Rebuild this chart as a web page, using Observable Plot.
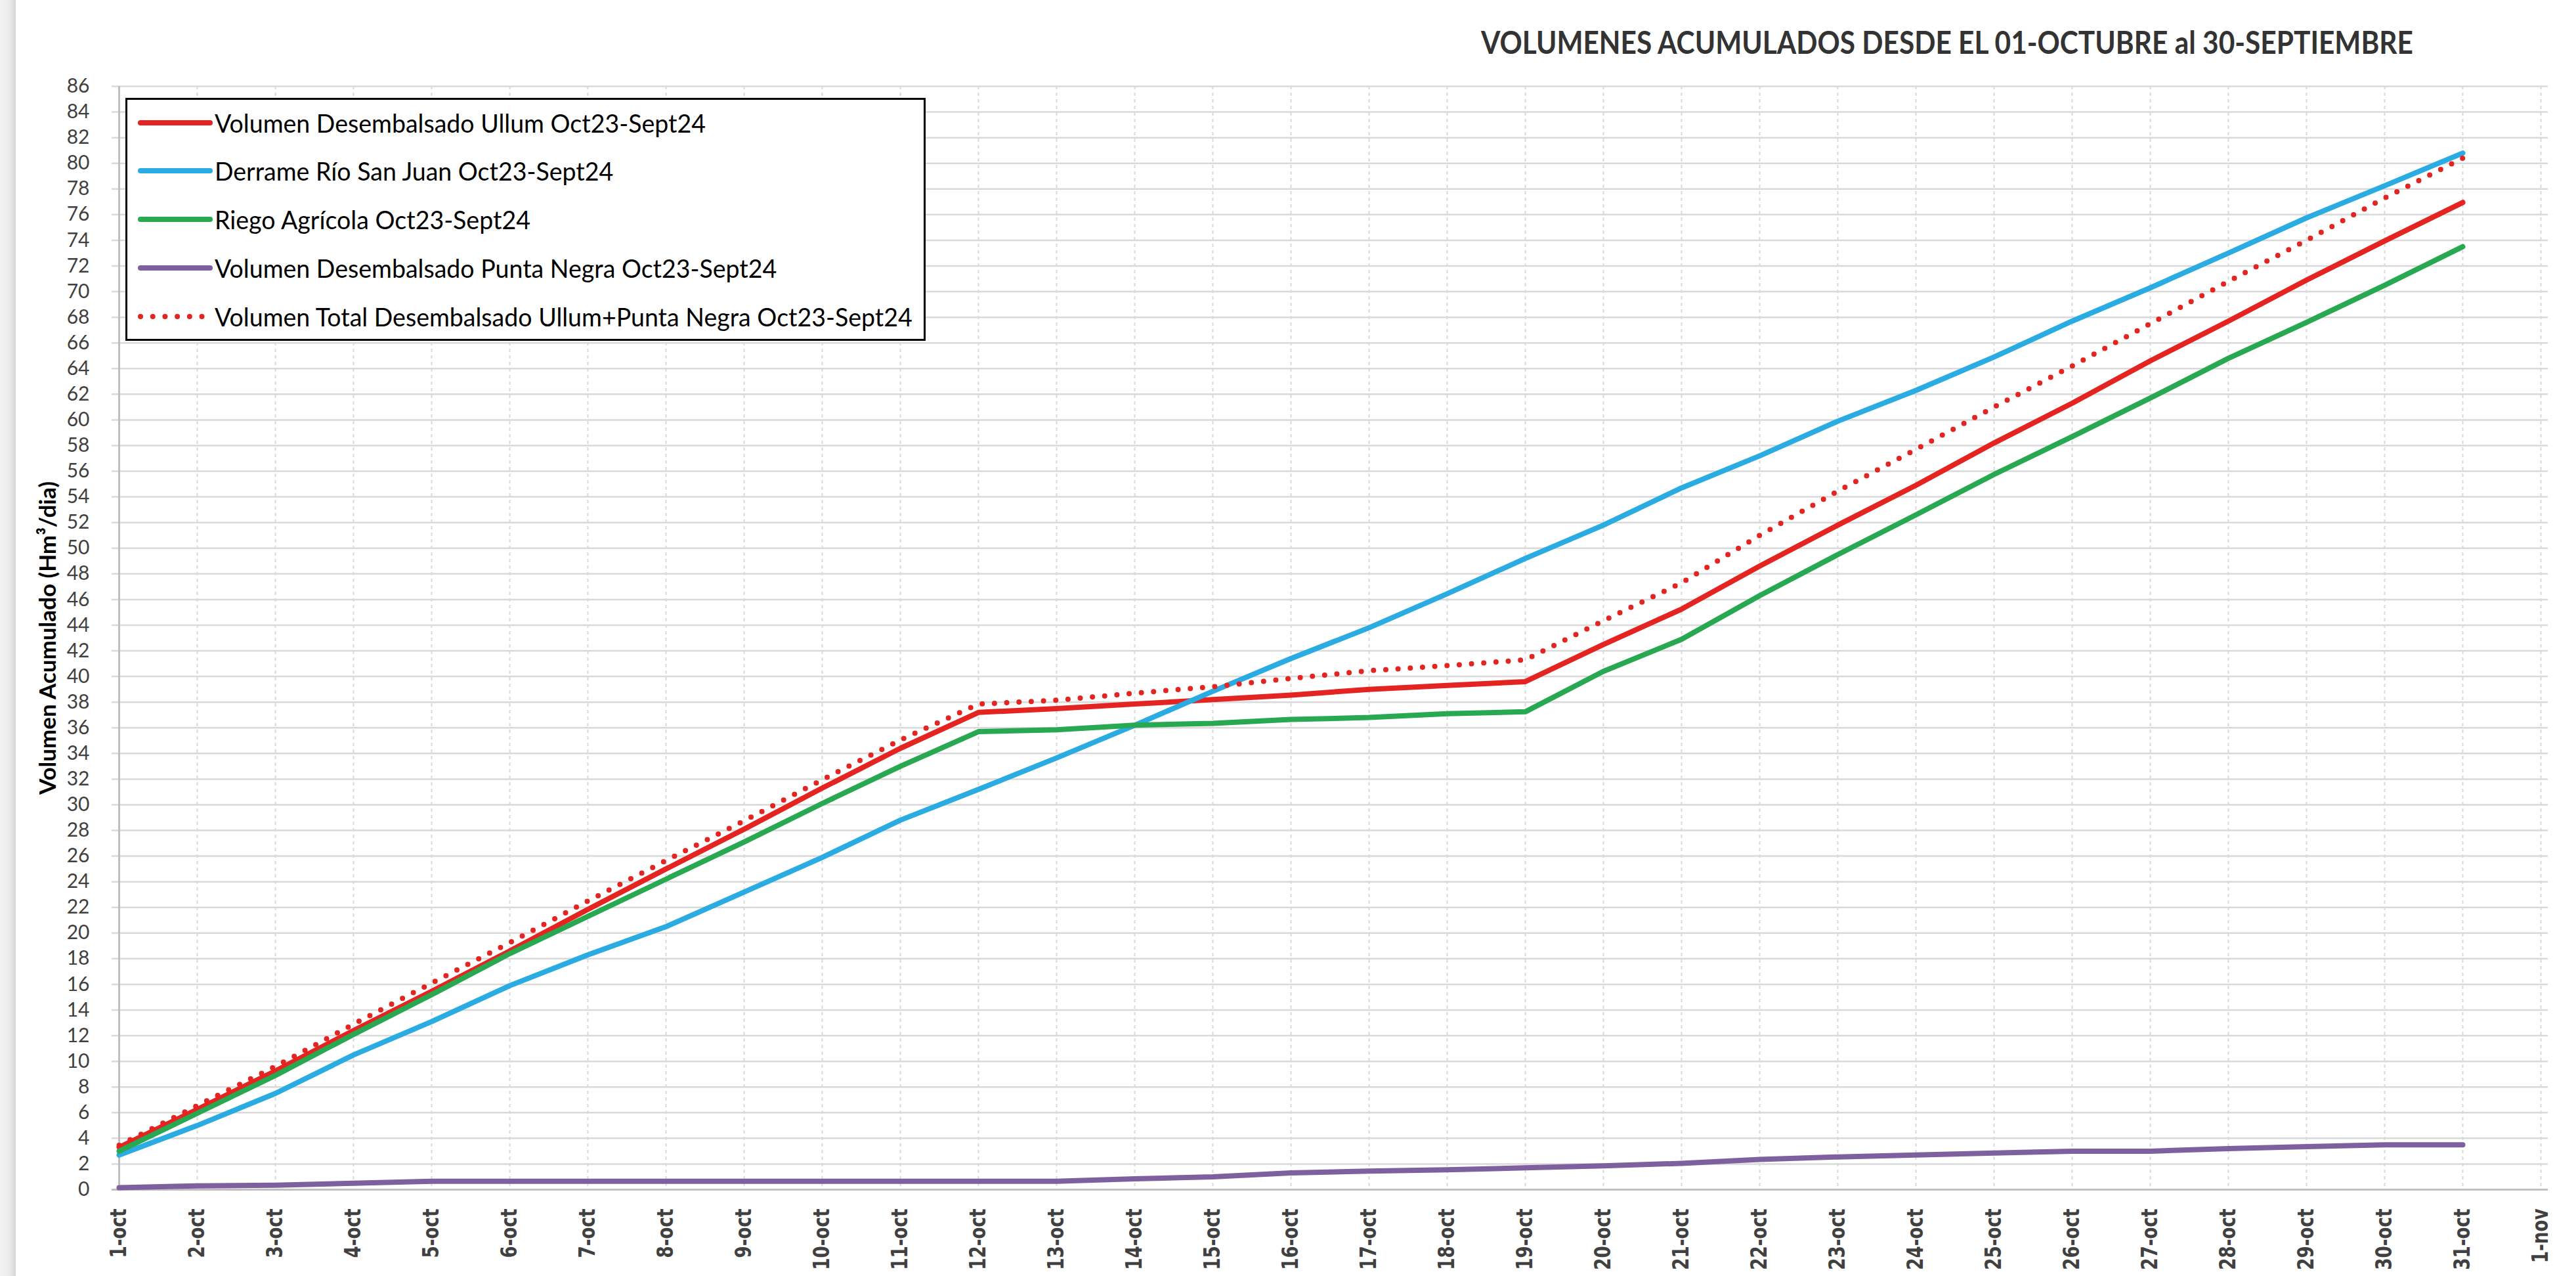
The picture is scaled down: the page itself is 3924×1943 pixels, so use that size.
<!DOCTYPE html>
<html>
<head>
<meta charset="utf-8">
<script src="https://cdn.jsdelivr.net/npm/d3@7"></script>
<script src="https://cdn.jsdelivr.net/npm/@observablehq/plot@0.6"></script>
<style>
  html, body { margin: 0; padding: 0; background: #fff; }
  #wrap { position: relative; width: 3924px; height: 1943px; overflow: hidden; background: #fff; }
  #shade { position: absolute; left: 0; top: 0; width: 24px; height: 1943px;
           background: linear-gradient(to right, #f3f3f3, #ebebeb 60%, #d6d6d6 100%); }
  #title { position: relative; height: 100px; }
  #title-text { position: absolute; left: 2966px; top: 64px; white-space: nowrap;
                font-family: Lato, "Open Sans", sans-serif; font-weight: 700; font-size: 47px;
                line-height: 1; color: #333; transform: translate(-50%, -50%); }
  #legend { position: absolute; left: 191px; top: 149px; width: 1219px; height: 370px;
            box-sizing: border-box; border: 3px solid #000; background: #fff; }
  .row { position: absolute; left: 0; height: 60px; display: flex; align-items: center; }
  .row svg { position: absolute; left: 14px; top: 0; }
  .row span { position: absolute; left: 133px; white-space: nowrap; font-family: Lato, "Open Sans", sans-serif;
              font-size: 39px; color: #000; transform-origin: left center; line-height: 60px; }
</style>
</head>
<body>
<div id="wrap">
  <div id="title"><span id="title-text"></span></div>
  <div id="chart"></div>
  <div id="legend"></div>
  <div id="shade"></div>
</div>
<script>
// ---------- data ----------
const titleText = "VOLUMENES ACUMULADOS DESDE EL 01-OCTUBRE al 30-SEPTIEMBRE";
const yLabel = "Volumen Acumulado (Hm³/dia)";

const dias = ["1-oct","2-oct","3-oct","4-oct","5-oct","6-oct","7-oct","8-oct","9-oct","10-oct",
  "11-oct","12-oct","13-oct","14-oct","15-oct","16-oct","17-oct","18-oct","19-oct","20-oct",
  "21-oct","22-oct","23-oct","24-oct","25-oct","26-oct","27-oct","28-oct","29-oct","30-oct","31-oct"];
const xTicks = [...dias, "1-nov"];
const yTicks = [0,2,4,6,8,10,12,14,16,18,20,22,24,26,28,30,32,34,36,38,40,42,44,46,48,50,52,54,56,58,60,62,64,66,68,70,72,74,76,78,80,82,84,86];

const ullum = [3.3, 6.25, 9.25, 12.4, 15.45, 18.6, 21.85, 25.0, 28.1, 31.3, 34.4,
  37.2, 37.5, 37.85, 38.2, 38.55, 39.0, 39.3, 39.6, 42.5, 45.25,
  48.6, 51.8, 54.9, 58.2, 61.3, 64.6, 67.7, 70.9, 73.95, 76.95];
const derrame = [2.7, 5.0, 7.5, 10.5, 13.1, 15.9, 18.3, 20.5, 23.2, 25.9, 28.8,
  31.2, 33.65, 36.2, 38.85, 41.4, 43.8, 46.45, 49.2, 51.8, 54.7,
  57.2, 59.9, 62.3, 64.9, 67.7, 70.3, 73.0, 75.75, 78.25, 80.8];
const riego = [3.0, 5.95, 8.9, 12.1, 15.2, 18.4, 21.3, 24.2, 27.1, 30.1, 33.0,
  35.7, 35.85, 36.2, 36.35, 36.65, 36.8, 37.1, 37.25, 40.4, 42.9,
  46.3, 49.5, 52.6, 55.75, 58.7, 61.7, 64.8, 67.6, 70.5, 73.5];
const puntaNegra = [0.15, 0.3, 0.35, 0.5, 0.65, 0.65, 0.65, 0.65, 0.65, 0.65, 0.65,
  0.65, 0.65, 0.85, 1.0, 1.3, 1.45, 1.55, 1.7, 1.85, 2.05,
  2.35, 2.55, 2.7, 2.85, 3.0, 3.0, 3.2, 3.35, 3.5, 3.5];
const total = [3.45, 6.55, 9.6, 12.9, 16.1, 19.25, 22.5, 25.65, 28.75, 31.95, 35.05,
  37.85, 38.15, 38.7, 39.2, 39.85, 40.45, 40.85, 41.3, 44.35, 47.3,
  51.0, 54.45, 57.7, 61.0, 64.2, 67.5, 70.8, 74.0, 77.3, 80.4];

const seriesNames = [
  "Volumen Desembalsado Ullum Oct23-Sept24",
  "Derrame Río San Juan Oct23-Sept24",
  "Riego Agrícola Oct23-Sept24",
  "Volumen Desembalsado Punta Negra Oct23-Sept24",
  "Volumen Total Desembalsado Ullum+Punta Negra Oct23-Sept24"
];
const seriesValues = [ullum, derrame, riego, puntaNegra, total];
const seriesColors = ["#E42421", "#2AACE2", "#28A850", "#7F609F", "#E42421"];
const seriesDashed = [false, false, false, false, true];

// ---------- styles ----------
const LW = 8;
const DOTS = "0 18.7";

// ---------- chart ----------
document.getElementById("title-text").textContent = titleText;

const lineMarks = seriesValues.map((vals, i) =>
  Plot.line(dias.map((d, j) => ({dia: d, v: vals[j]})), {
    x: "dia", y: "v",
    stroke: seriesColors[i],
    strokeWidth: LW,
    strokeLinecap: "round",
    strokeLinejoin: "round",
    strokeDasharray: seriesDashed[i] ? DOTS : null
  })
);

const chart = Plot.plot({
  width: 3924,
  height: 1843,
  marginTop: 31,
  marginBottom: 132,
  marginLeft: 170,
  marginRight: 43,
  style: {fontFamily: "Lato, 'Open Sans', sans-serif", background: "#fff", overflow: "visible"},
  x: {type: "point", domain: xTicks, padding: 0},
  y: {domain: [0, 86]},
  marks: [
    Plot.gridY(yTicks, {stroke: "#D9D9D9", strokeOpacity: 1, strokeWidth: 2.5}),
    Plot.gridX(xTicks, {stroke: "#D9D9D9", strokeOpacity: 1, strokeWidth: 2, strokeDasharray: "5,5"}),
    Plot.ruleY([0], {stroke: "#BFBFBF", strokeWidth: 3}),
    Plot.ruleX([xTicks[0]], {stroke: "#BFBFBF", strokeWidth: 3}),
    Plot.axisY(yTicks, {tickSize: 0, tickPadding: 34, fontSize: 30, fill: "#404040", label: null}),
    Plot.axisX(xTicks, {tickSize: 0, tickPadding: 29, tickRotate: -90, fontSize: 34, fontWeight: "bold",
                        fontFamily: "'DejaVu Sans', sans-serif", fill: "#404040", label: null,
                        className: "xticks"}),
    Plot.text([yLabel], {frameAnchor: "left", rotate: -90, dx: -97, textAnchor: "middle",
                         fontSize: 35, fontWeight: "bold", fill: "#000", text: d => d}),
    ...lineMarks
  ]
});
document.getElementById("chart").appendChild(chart);

// compress the rotated x tick labels along their length (narrow face as in the reference)
d3.select(chart).selectAll("g[aria-label='x-axis tick label'] text").each(function() {
  const t = this.getAttribute("transform") || "";
  this.setAttribute("transform", t + " scale(0.77,1)");
});

// ---------- legend ----------
const legend = document.getElementById("legend");
const rowCenters = [38, 111, 185, 259, 333];
const spans = [];
seriesNames.forEach((name, i) => {
  const row = document.createElement("div");
  row.className = "row";
  row.style.top = (rowCenters[i] - 30 - 3) + "px";
  const sw = d3.create("svg").attr("width", 120).attr("height", 60);
  sw.append("line")
    .attr("x1", 6).attr("x2", seriesDashed[i] ? 100 : 112)
    .attr("y1", 30).attr("y2", 30)
    .attr("stroke", seriesColors[i]).attr("stroke-width", LW)
    .attr("stroke-linecap", "round")
    .attr("stroke-dasharray", seriesDashed[i] ? DOTS : null);
  row.appendChild(sw.node());
  const sp = document.createElement("span");
  sp.textContent = name;
  row.appendChild(sp);
  legend.appendChild(row);
  spans.push(sp);
});

const w0 = spans[0].getBoundingClientRect().width;
const k = 748 / w0;
spans.forEach(s => s.style.transform = `scaleX(${k})`);
const tt = document.getElementById("title-text");
const tw = tt.getBoundingClientRect().width;
tt.style.transform = `translate(-50%, -50%) scaleX(${1420 / tw})`;
</script>
</body>
</html>
